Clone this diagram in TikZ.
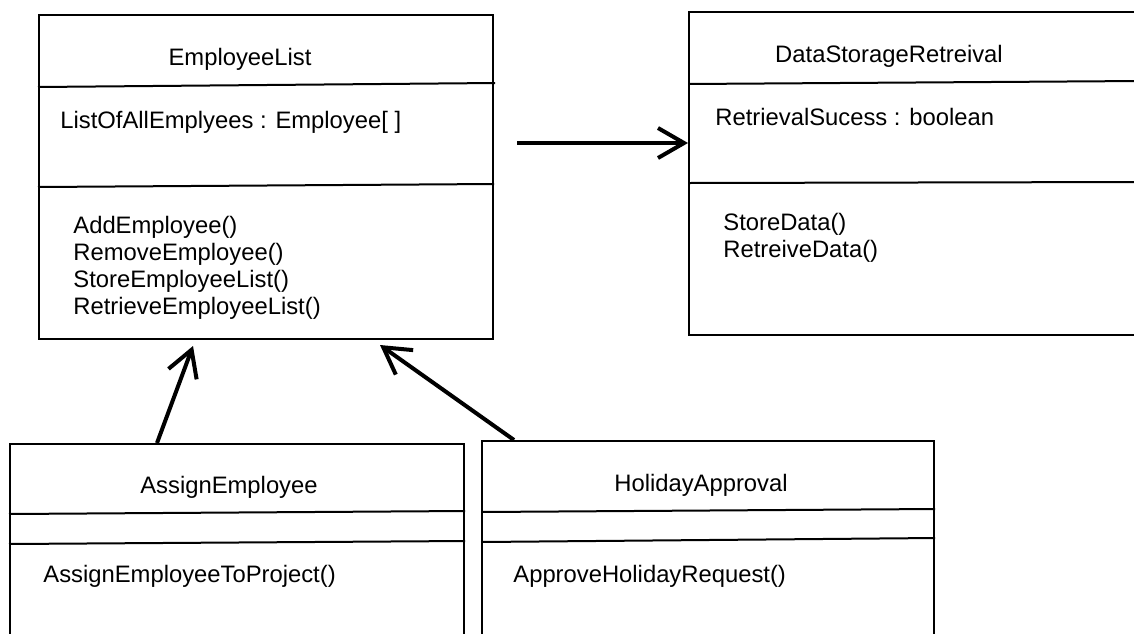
\documentclass[tikz,border=0pt]{standalone}
\usepackage{fontspec}
\setmainfont{Liberation Sans}
\usetikzlibrary{arrows.meta, positioning, calc}
\tikzset{
    cls/.style args={#1 by #2}{rectangle, draw=black, line width=1pt, inner sep=0pt,
                 minimum width=#1, minimum height=#2, anchor=north west},
    sep/.style={line width=1pt},
    cname/.style={font=\fontsize{11.9}{13.5}\selectfont, inner sep=0pt, anchor=base},
    member/.style={font=\fontsize{11.9}{13.5}\selectfont, inner sep=0pt, anchor=base west},
    assoc/.style={-{Straight Barb[length=13pt, width=15pt]}, line width=2pt}
}
\begin{document}
\begin{tikzpicture}[x=0.5pt, y=-0.5pt]
    \useasboundingbox (0,0) rectangle (1134,633);
    \clip (0,0) rectangle (1134,633);

    % Classes
    \node[cls=227pt by 162pt] (emp) at (38,14) {};
    \node[cls=226pt by 161.5pt] (dsr) at (688,11) {};
    \node[cls=227pt by 110pt] (ae) at (9,443) {};
    \node[cls=226pt by 110pt] (ha) at (481,440) {};

    % Compartments
    \draw[sep] ($(emp.north west)+(0,73)$) -- ($(emp.north east)+(1,69)$);
    \draw[sep] ($(emp.north west)+(0,173)$) -- ($(emp.north east)+(0,170)$);
    \draw[sep] ($(dsr.north west)+(0,73)$) -- ($(dsr.north east)+(0,70)$);
    \draw[sep] ($(dsr.north west)+(0,172)$) -- ($(dsr.north east)+(0,171)$);
    \draw[sep] ($(ae.north west)+(0,71)$) -- ($(ae.north east)+(0,68)$);
    \draw[sep] ($(ae.north west)+(0,101)$) -- ($(ae.north east)+(0,98)$);
    \draw[sep] ($(ha.north west)+(0,72)$) -- ($(ha.north east)+(0,69)$);
    \draw[sep] ($(ha.north west)+(0,102)$) -- ($(ha.north east)+(0,98)$);

    % EmployeeList
    \node[cname] (empName) at ($(emp.north west)+(202,51)$) {EmployeeList};
    \node[member] (empAttr) at ($(emp.north west)+(22,114)$) {ListOfAllEmplyees : Employee[ ]};
    \node[member] (empAdd) at ($(emp.north west)+(35,219)$) {AddEmployee()};
    \node[member] (empRemove) at ($(emp.north west)+(35,246)$) {RemoveEmployee()};
    \node[member] (empStore) at ($(emp.north west)+(35,273)$) {StoreEmployeeList()};
    \node[member] (empRetrieve) at ($(emp.north west)+(35,300)$) {RetrieveEmployeeList()};

    % DataStorageRetreival
    \node[cname] (dsrName) at ($(dsr.north west)+(201,51)$) {DataStorageRetreival};
    \node[member] (dsrAttr) at ($(dsr.north west)+(27,114)$) {RetrievalSucess : boolean};
    \node[member] (dsrStore) at ($(dsr.north west)+(35,219)$) {StoreData()};
    \node[member] (dsrRetrieve) at ($(dsr.north west)+(35,246)$) {RetreiveData()};

    % AssignEmployee and HolidayApproval
    \node[cname] (aeName) at ($(ae.north west)+(220,50)$) {AssignEmployee};
    \node[member] (aeAssign) at ($(ae.north west)+(34,139)$) {AssignEmployeeToProject()};
    \node[cname] (haName) at ($(ha.north west)+(220,51)$) {HolidayApproval};
    \node[member] (haApprove) at ($(ha.north west)+(32,142)$) {ApproveHolidayRequest()};

    % Associations
    \draw[assoc] ($(emp.north east)+(23,129)$) -- ($(dsr.north west)+(0,132)$);
    \draw[assoc] ($(ae.north west)+(148,0)$) -- ($(emp.south west)+(155,6)$);
    \draw[assoc] ($(ha.north west)+(33,0)$) -- ($(emp.south west)+(342,5)$);
\end{tikzpicture}
\end{document}
